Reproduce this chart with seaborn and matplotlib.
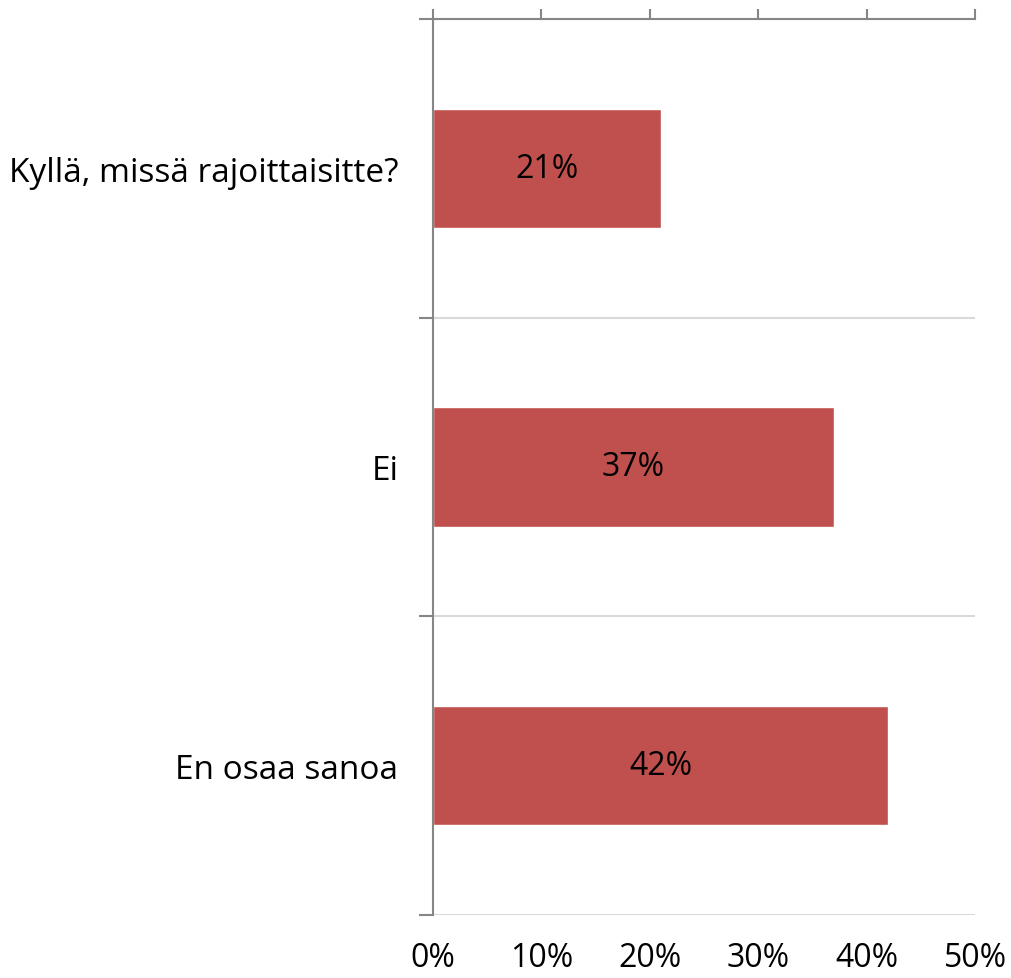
import numpy as np
import pandas as pd
import matplotlib.pyplot as plt
import seaborn as sns

# DATA:
categories = ["Kyllä, missä rajoittaisitte?", "Ei", "En osaa sanoa"]
values = [21, 37, 42]
xticks = [0, 10, 20, 30, 40, 50]

df = pd.DataFrame({"vastaus": categories, "osuus": values})

sns.set_style("white")
plt.rcParams["font.family"] = ["Open Sans", "DejaVu Sans"]
plt.rcParams["text.color"] = "black"
plt.rcParams["xtick.labelcolor"] = "black"
plt.rcParams["ytick.labelcolor"] = "black"

fig = plt.figure(figsize=(10.12, 9.79), dpi=100)
ax = fig.add_axes([433 / 1012, 1 - 916 / 979, (975 - 433) / 1012, (916 - 20) / 979])

sns.barplot(data=df, x="osuus", y="vastaus", orient="h", color="#C0504D",
            width=0.4, saturation=1, ax=ax)
ax.bar_label(ax.containers[0], labels=[f"{v}%" for v in values],
             label_type="center", fontsize=23, color="black")

# x-axis: line on top, labels below
ax.set_xlim(0, 50)
ax.set_xticks(xticks)
ax.set_xticklabels([f"{t}%" for t in xticks])
ax.tick_params(axis="x", top=True, bottom=False, labeltop=False, labelbottom=True,
               direction="out", length=7.5, width=1.5, color="#868686",
               labelsize=23, pad=11)

# y-axis: category labels, ticks between categories
ax.set_ylim(2.5, -0.5)
ax.set_yticks([-0.5, 0.5, 1.5, 2.5], minor=True)
ax.tick_params(axis="y", which="major", length=0, labelsize=24, pad=25)
ax.tick_params(axis="y", which="minor", left=True, length=10, width=1.5,
               color="#868686")
ax.yaxis.grid(True, which="minor", color="#d9d9d9", linewidth=1.5)
ax.set_axisbelow(True)

ax.set_xlabel("")
ax.set_ylabel("")
for side in ["top", "left"]:
    ax.spines[side].set_color("#868686")
    ax.spines[side].set_linewidth(1.5)
ax.spines["bottom"].set_visible(False)
ax.spines["right"].set_visible(False)

fig.savefig("out.png", dpi=100)
